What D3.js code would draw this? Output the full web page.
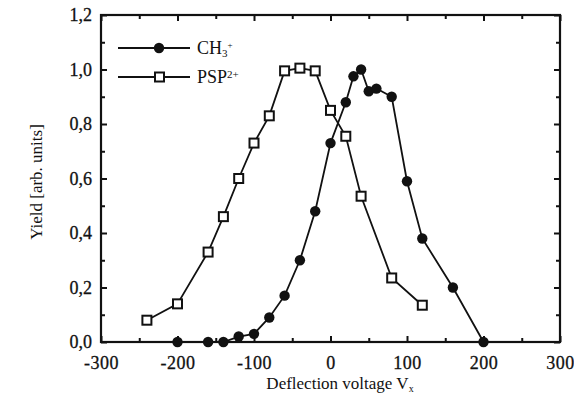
<!DOCTYPE html>
<html>
<head>
<meta charset="utf-8">
<script src="https://cdn.jsdelivr.net/npm/d3@7"></script>
<style>
  body { margin: 0; background: #fff; }
  svg { display: block; }
  svg text { font-family: "Liberation Serif", "DejaVu Serif", serif; }
</style>
</head>
<body>
<div id="chart"></div>
<script>
// values
const ch3Volt = [-200, -160, -140, -120, -100, -80, -60, -40, -20, 0, 20, 30, 40, 50, 60, 80, 100, 120, 160, 200];
const ch3Yield = [0, 0, 0, 0.02, 0.03, 0.09, 0.17, 0.30, 0.48, 0.73, 0.88, 0.975, 1.0, 0.92, 0.93, 0.90, 0.59, 0.38, 0.20, 0];

const pspVolt = [-240, -200, -160, -140, -120, -100, -80, -60, -40, -20, 0, 20, 40, 80, 120];
const pspYield = [0.08, 0.14, 0.33, 0.46, 0.60, 0.73, 0.83, 0.995, 1.005, 0.995, 0.85, 0.755, 0.535, 0.235, 0.135];

const xTicks = [-300, -200, -100, 0, 100, 200, 300];
const xMinor = [-250, -150, -50, 50, 150, 250];
const yTicks = [0, 0.2, 0.4, 0.6, 0.8, 1.0, 1.2];
const yMinor = [0.1, 0.3, 0.5, 0.7, 0.9, 1.1];

const width = 574,
    height = 406,
    margin = ({top: 15, right: 14, bottom: 64, left: 101});

const svg = d3.select("#chart")
    .append("svg")
    .attr("width", width)
    .attr("height", height);

const x = d3.scaleLinear()
    .domain([-300, 300])
    .range([margin.left, width - margin.right]);

const y = d3.scaleLinear()
    .domain([0, 1.2])
    .range([height - margin.bottom, margin.top]);

const fmtY = d => d3.format(".1f")(d).replace(".", ",");

// ticks point inward on all four sides
const bottomY = height - margin.bottom;

svg.append("g")
    .attr("transform", `translate(0,${bottomY})`)
    .call(d3.axisBottom(x).tickValues(xTicks).tickSize(-6).tickPadding(14).tickFormat(d => d))
    .call(g => g.selectAll("text").attr("font-size", 18).attr("letter-spacing", 0.5));
svg.append("g")
    .attr("transform", `translate(0,${bottomY})`)
    .call(d3.axisBottom(x).tickValues(xMinor).tickSize(-4).tickFormat(""));
svg.append("g")
    .attr("transform", `translate(0,${margin.top})`)
    .call(d3.axisTop(x).tickValues(xTicks).tickSize(-6).tickFormat(""));
svg.append("g")
    .attr("transform", `translate(0,${margin.top})`)
    .call(d3.axisTop(x).tickValues(xMinor).tickSize(-4).tickFormat(""));

svg.append("g")
    .attr("transform", `translate(${margin.left},0)`)
    .call(d3.axisLeft(y).tickValues(yTicks).tickSize(-6).tickPadding(9).tickFormat(fmtY))
    .call(g => g.selectAll("text").attr("font-size", 18));
svg.append("g")
    .attr("transform", `translate(${margin.left},0)`)
    .call(d3.axisLeft(y).tickValues(yMinor).tickSize(-4).tickFormat(""));
svg.append("g")
    .attr("transform", `translate(${width - margin.right},0)`)
    .call(d3.axisRight(y).tickValues(yTicks).tickSize(-6).tickFormat(""));
svg.append("g")
    .attr("transform", `translate(${width - margin.right},0)`)
    .call(d3.axisRight(y).tickValues(yMinor).tickSize(-4).tickFormat(""));

svg.selectAll(".domain").remove();
svg.selectAll(".tick line").attr("stroke", "#111").attr("stroke-width", 2);
svg.selectAll(".tick text").attr("fill", "#111").attr("stroke", "#111").attr("stroke-width", 0.3);

svg.append("rect")
    .attr("x", margin.left)
    .attr("y", margin.top)
    .attr("width", width - margin.right - margin.left)
    .attr("height", bottomY - margin.top)
    .attr("fill", "none")
    .attr("stroke", "#111")
    .attr("stroke-width", 2.2);

// series
const line = d3.line().x(d => x(d[0])).y(d => y(d[1]));
const ch3 = ch3Volt.map((v, i) => [v, ch3Yield[i]]);
const psp = pspVolt.map((v, i) => [v, pspYield[i]]);

svg.append("path")
    .datum(psp)
    .attr("d", line)
    .attr("fill", "none")
    .attr("stroke", "#111")
    .attr("stroke-width", 1.8);

svg.append("path")
    .datum(ch3)
    .attr("d", line)
    .attr("fill", "none")
    .attr("stroke", "#111")
    .attr("stroke-width", 1.8);

svg.selectAll(".psp")
    .data(psp)
    .join("rect")
    .attr("class", "psp")
    .attr("x", d => x(d[0]) - 4.5)
    .attr("y", d => y(d[1]) - 4.5)
    .attr("width", 9)
    .attr("height", 9)
    .attr("fill", "#fff")
    .attr("stroke", "#111")
    .attr("stroke-width", 2);

svg.selectAll(".ch3")
    .data(ch3)
    .join("circle")
    .attr("class", "ch3")
    .attr("cx", d => x(d[0]))
    .attr("cy", d => y(d[1]))
    .attr("r", 5.2)
    .attr("fill", "#111");

// legend
const leg = svg.append("g");
leg.append("line").attr("x1", 118).attr("x2", 190).attr("y1", 48).attr("y2", 48)
    .attr("stroke", "#111").attr("stroke-width", 1.8);
leg.append("circle").attr("cx", 159).attr("cy", 48).attr("r", 5.2).attr("fill", "#111");
leg.append("line").attr("x1", 118).attr("x2", 190).attr("y1", 77).attr("y2", 77)
    .attr("stroke", "#111").attr("stroke-width", 1.8);
leg.append("rect").attr("x", 155).attr("y", 72.5).attr("width", 9).attr("height", 9)
    .attr("fill", "#fff").attr("stroke", "#111").attr("stroke-width", 2);

const t1 = leg.append("text").attr("x", 197).attr("y", 54).attr("font-size", 18).attr("fill", "#111");
t1.append("tspan").text("CH");
t1.append("tspan").attr("font-size", 11).attr("dy", 3).text("3");
t1.append("tspan").attr("font-size", 9).attr("dy", -9).text("+");

const t2 = leg.append("text").attr("x", 197).attr("y", 83).attr("font-size", 18).attr("fill", "#111");
t2.append("tspan").text("PSP");
t2.append("tspan").attr("font-size", 11).attr("dy", -5).text("2+");

// axis titles
const xt = svg.append("text")
    .attr("x", 340)
    .attr("y", 389)
    .attr("text-anchor", "middle")
    .attr("font-size", 17)
    .attr("fill", "#111");
xt.append("tspan").text("Deflection voltage V");
xt.append("tspan").attr("font-size", 10).attr("dy", 3).text("x");

svg.append("text")
    .attr("transform", "translate(42,182) rotate(-90)")
    .attr("text-anchor", "middle")
    .attr("font-size", 17)
    .attr("fill", "#111")
    .text("Yield [arb. units]");
</script>
</body>
</html>
